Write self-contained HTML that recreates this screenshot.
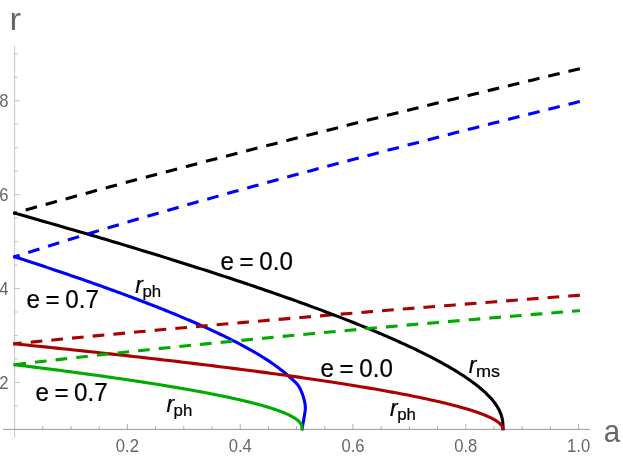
<!DOCTYPE html>
<html><head><meta charset="utf-8"><title>plot</title>
<style>
html,body{margin:0;padding:0;background:#fff;}
body{width:623px;height:459px;overflow:hidden;}
svg{display:block;font-family:"Liberation Sans",sans-serif;will-change:transform;}
</style></head><body>
<svg width="623" height="459" viewBox="0 0 623 459">
<rect width="623" height="459" fill="#ffffff"/>
<g fill="none"><line x1="3.1" y1="429.40" x2="589.9" y2="429.40" stroke="#808080" stroke-width="0.8"/><line x1="14.60" y1="45.9" x2="14.60" y2="437.5" stroke="#9a9a9a" stroke-width="0.6"/><line x1="42.80" y1="429.40" x2="42.80" y2="426.10" stroke="#8a8a8a" stroke-width="0.7"/><line x1="71.00" y1="429.40" x2="71.00" y2="426.10" stroke="#8a8a8a" stroke-width="0.7"/><line x1="99.20" y1="429.40" x2="99.20" y2="426.10" stroke="#8a8a8a" stroke-width="0.7"/><line x1="127.40" y1="429.40" x2="127.40" y2="424.10" stroke="#8a8a8a" stroke-width="0.7"/><line x1="155.60" y1="429.40" x2="155.60" y2="426.10" stroke="#8a8a8a" stroke-width="0.7"/><line x1="183.80" y1="429.40" x2="183.80" y2="426.10" stroke="#8a8a8a" stroke-width="0.7"/><line x1="212.00" y1="429.40" x2="212.00" y2="426.10" stroke="#8a8a8a" stroke-width="0.7"/><line x1="240.20" y1="429.40" x2="240.20" y2="424.10" stroke="#8a8a8a" stroke-width="0.7"/><line x1="268.40" y1="429.40" x2="268.40" y2="426.10" stroke="#8a8a8a" stroke-width="0.7"/><line x1="296.60" y1="429.40" x2="296.60" y2="426.10" stroke="#8a8a8a" stroke-width="0.7"/><line x1="324.80" y1="429.40" x2="324.80" y2="426.10" stroke="#8a8a8a" stroke-width="0.7"/><line x1="353.00" y1="429.40" x2="353.00" y2="424.10" stroke="#8a8a8a" stroke-width="0.7"/><line x1="381.20" y1="429.40" x2="381.20" y2="426.10" stroke="#8a8a8a" stroke-width="0.7"/><line x1="409.40" y1="429.40" x2="409.40" y2="426.10" stroke="#8a8a8a" stroke-width="0.7"/><line x1="437.60" y1="429.40" x2="437.60" y2="426.10" stroke="#8a8a8a" stroke-width="0.7"/><line x1="465.80" y1="429.40" x2="465.80" y2="424.10" stroke="#8a8a8a" stroke-width="0.7"/><line x1="494.00" y1="429.40" x2="494.00" y2="426.10" stroke="#8a8a8a" stroke-width="0.7"/><line x1="522.20" y1="429.40" x2="522.20" y2="426.10" stroke="#8a8a8a" stroke-width="0.7"/><line x1="550.40" y1="429.40" x2="550.40" y2="426.10" stroke="#8a8a8a" stroke-width="0.7"/><line x1="578.60" y1="429.40" x2="578.60" y2="424.10" stroke="#8a8a8a" stroke-width="0.7"/><line x1="14.60" y1="405.92" x2="17.90" y2="405.92" stroke="#9a9a9a" stroke-width="0.6"/><line x1="14.60" y1="382.45" x2="19.90" y2="382.45" stroke="#9a9a9a" stroke-width="0.6"/><line x1="14.60" y1="358.97" x2="17.90" y2="358.97" stroke="#9a9a9a" stroke-width="0.6"/><line x1="14.60" y1="335.50" x2="17.90" y2="335.50" stroke="#9a9a9a" stroke-width="0.6"/><line x1="14.60" y1="312.02" x2="17.90" y2="312.02" stroke="#9a9a9a" stroke-width="0.6"/><line x1="14.60" y1="288.55" x2="19.90" y2="288.55" stroke="#9a9a9a" stroke-width="0.6"/><line x1="14.60" y1="265.07" x2="17.90" y2="265.07" stroke="#9a9a9a" stroke-width="0.6"/><line x1="14.60" y1="241.60" x2="17.90" y2="241.60" stroke="#9a9a9a" stroke-width="0.6"/><line x1="14.60" y1="218.12" x2="17.90" y2="218.12" stroke="#9a9a9a" stroke-width="0.6"/><line x1="14.60" y1="194.65" x2="19.90" y2="194.65" stroke="#9a9a9a" stroke-width="0.6"/><line x1="14.60" y1="171.17" x2="17.90" y2="171.17" stroke="#9a9a9a" stroke-width="0.6"/><line x1="14.60" y1="147.70" x2="17.90" y2="147.70" stroke="#9a9a9a" stroke-width="0.6"/><line x1="14.60" y1="124.22" x2="17.90" y2="124.22" stroke="#9a9a9a" stroke-width="0.6"/><line x1="14.60" y1="100.75" x2="19.90" y2="100.75" stroke="#9a9a9a" stroke-width="0.6"/><line x1="14.60" y1="77.27" x2="17.90" y2="77.27" stroke="#9a9a9a" stroke-width="0.6"/><line x1="14.60" y1="53.80" x2="17.90" y2="53.80" stroke="#9a9a9a" stroke-width="0.6"/></g>
<path d="M13.36,256.42 L14.60,256.82 L16.90,257.56 L19.20,258.30 L21.50,259.05 L23.79,259.79 L26.09,260.54 L28.39,261.29 L30.69,262.04 L32.99,262.80 L35.29,263.55 L37.59,264.31 L39.89,265.07 L42.18,265.83 L44.48,266.59 L46.78,267.36 L49.08,268.12 L51.38,268.89 L53.68,269.66 L55.98,270.44 L58.27,271.21 L60.57,271.99 L62.87,272.77 L65.17,273.55 L67.47,274.33 L69.77,275.12 L72.07,275.91 L74.37,276.70 L76.66,277.49 L78.96,278.28 L81.26,279.08 L83.56,279.88 L85.86,280.68 L88.16,281.49 L90.46,282.30 L92.75,283.11 L95.05,283.92 L97.35,284.73 L99.65,285.55 L101.95,286.37 L104.25,287.20 L106.55,288.02 L108.84,288.85 L111.14,289.69 L113.44,290.52 L115.74,291.36 L118.04,292.20 L120.34,293.05 L122.64,293.90 L124.94,294.75 L127.23,295.60 L129.53,296.46 L131.83,297.32 L134.13,298.19 L136.43,299.06 L138.73,299.93 L141.03,300.81 L143.32,301.69 L145.62,302.57 L147.92,303.46 L150.22,304.36 L152.52,305.25 L154.82,306.16 L157.12,307.06 L159.42,307.97 L161.71,308.89 L164.01,309.81 L166.31,310.74 L168.61,311.67 L170.91,312.60 L173.21,313.54 L175.51,314.49 L177.80,315.44 L180.10,316.40 L182.40,317.36 L184.70,318.33 L187.00,319.31 L189.30,320.29 L191.60,321.28 L193.90,322.28 L196.19,323.28 L198.49,324.29 L200.79,325.31 L203.09,326.34 L205.39,327.37 L207.69,328.41 L209.99,329.46 L212.28,330.53 L214.58,331.59 L216.88,332.67 L219.18,333.76 L221.48,334.86 L223.78,335.97 L226.08,337.10 L228.37,338.23 L230.67,339.38 L232.97,340.54 L235.27,341.71 L237.57,342.90 L239.87,344.10 L242.17,345.32 L244.47,346.56 L246.76,347.81 L249.06,349.09 L251.36,350.38 L253.66,351.69 L255.96,353.03 L258.26,354.39 L260.56,355.78 L262.85,357.20 L265.15,358.65 L267.45,360.13 L269.75,361.65 L272.05,363.21 L274.35,364.81 L276.65,366.47 L278.95,368.18 L281.24,369.96 L283.54,371.81 L285.84,373.74 L288.14,375.78 L288.63,376.22 L289.26,376.78 L290.00,377.42 L290.84,378.14 L291.75,378.93 L292.70,379.76 L293.67,380.64 L294.63,381.54 L295.56,382.45 L296.43,383.35 L297.22,384.24 L297.90,385.10 L298.50,385.95 L299.05,386.82 L299.57,387.70 L300.05,388.59 L300.50,389.50 L300.92,390.41 L301.31,391.33 L301.68,392.25 L302.03,393.17 L302.37,394.09 L302.69,395.00 L303.00,395.90 L303.30,396.80 L303.58,397.70 L303.85,398.61 L304.10,399.51 L304.32,400.42 L304.53,401.32 L304.72,402.22 L304.88,403.12 L305.02,404.00 L305.14,404.88 L305.23,405.75 L305.30,406.60 L305.33,407.44 L305.33,408.26 L305.30,409.08 L305.24,409.88 L305.15,410.68 L305.05,411.47 L304.93,412.26 L304.81,413.04 L304.68,413.83 L304.55,414.61 L304.42,415.40 L304.30,416.20 L304.18,417.02 L304.04,417.87 L303.89,418.74 L303.74,419.63 L303.58,420.51 L303.41,421.38 L303.25,422.23 L303.10,423.05 L302.95,423.83 L302.82,424.55 L302.70,425.21 L302.60,425.80 L302.52,426.32 L302.45,426.78 L302.40,427.19 L302.36,427.55 L302.32,427.87 L302.29,428.15 L302.27,428.40 L302.26,428.62 L302.24,428.81 L302.23,428.99 L302.22,429.15 L302.20,429.30" fill="none" stroke="#0000ff" stroke-width="3.10" stroke-linejoin="round" stroke-linecap="butt"/>
<path d="M579.90,295.24 L578.60,295.34 L569.04,296.07 L559.48,296.79 L549.92,297.52 L540.36,298.25 L530.80,298.98 L521.24,299.72 L511.68,300.46 L502.13,301.20 L492.57,301.95 L483.01,302.69 L473.45,303.44 L463.89,304.19 L454.33,304.95 L444.77,305.71 L435.21,306.47 L425.65,307.23 L416.09,308.00 L406.53,308.77 L396.97,309.54 L387.41,310.32 L377.85,311.10 L368.29,311.88 L358.74,312.67 L349.18,313.46 L339.62,314.25 L330.06,315.05 L320.50,315.85 L310.94,316.65 L301.38,317.46 L291.82,318.27 L282.26,319.09 L272.70,319.90 L263.14,320.73 L253.58,321.55 L244.02,322.39 L234.46,323.22 L224.91,324.06 L215.35,324.90 L205.79,325.75 L196.23,326.61 L186.67,327.46 L177.11,328.32 L167.55,329.19 L157.99,330.06 L148.43,330.94 L138.87,331.82 L129.31,332.71 L119.75,333.60 L110.19,334.50 L100.63,335.40 L91.07,336.31 L81.52,337.23 L71.96,338.15 L62.40,339.08 L52.84,340.01 L43.28,340.95 L33.72,341.90 L24.16,342.85 L14.60,343.82 L13.31,343.95" fill="none" stroke="#aa0000" stroke-width="3.10" stroke-dasharray="11.7 9.05" stroke-dashoffset="0.00"/>
<path d="M13.35,212.76 L14.60,213.12 L20.71,214.84 L26.78,216.56 L32.80,218.28 L38.78,219.98 L44.71,221.68 L50.59,223.37 L56.43,225.05 L62.22,226.72 L67.97,228.39 L73.67,230.05 L79.33,231.70 L84.94,233.34 L90.50,234.98 L96.03,236.61 L101.50,238.23 L106.94,239.84 L112.33,241.45 L117.67,243.05 L122.97,244.64 L128.23,246.23 L133.44,247.80 L138.61,249.37 L143.74,250.94 L148.82,252.49 L153.86,254.04 L158.85,255.58 L163.81,257.11 L168.71,258.64 L173.58,260.16 L178.40,261.67 L183.19,263.18 L187.92,264.67 L192.62,266.16 L197.27,267.65 L201.89,269.12 L206.46,270.59 L210.98,272.05 L215.47,273.51 L219.91,274.96 L224.32,276.40 L228.68,277.83 L233.00,279.26 L237.28,280.68 L241.52,282.09 L245.72,283.50 L249.87,284.89 L253.99,286.29 L258.06,287.67 L262.10,289.05 L266.10,290.42 L270.05,291.78 L273.97,293.14 L277.84,294.49 L281.68,295.84 L285.48,297.17 L289.23,298.50 L292.95,299.83 L296.63,301.14 L300.27,302.45 L303.87,303.75 L307.44,305.05 L310.96,306.34 L314.45,307.62 L317.89,308.90 L321.30,310.17 L324.67,311.43 L328.01,312.69 L331.30,313.94 L334.56,315.18 L337.78,316.41 L340.97,317.64 L344.12,318.87 L347.23,320.08 L350.30,321.29 L353.34,322.50 L356.34,323.69 L359.30,324.88 L362.23,326.07 L365.12,327.25 L367.97,328.42 L370.79,329.58 L373.58,330.74 L376.33,331.89 L379.04,333.04 L381.72,334.18 L384.36,335.31 L386.97,336.44 L389.54,337.56 L392.08,338.67 L394.58,339.78 L397.06,340.88 L399.49,341.98 L401.89,343.07 L404.26,344.15 L406.60,345.23 L408.90,346.30 L411.17,347.36 L413.40,348.42 L415.60,349.47 L417.77,350.52 L419.91,351.56 L422.02,352.59 L424.09,353.62 L426.13,354.64 L428.14,355.66 L430.11,356.67 L432.06,357.68 L433.97,358.67 L435.85,359.67 L437.70,360.65 L439.52,361.64 L441.31,362.61 L443.07,363.58 L444.80,364.54 L446.50,365.50 L448.16,366.45 L449.80,367.40 L451.41,368.34 L452.99,369.27 L454.54,370.20 L456.06,371.13 L457.55,372.04 L459.01,372.96 L460.45,373.86 L461.85,374.76 L463.23,375.66 L464.58,376.55 L465.90,377.43 L467.19,378.31 L468.46,379.19 L469.70,380.05 L470.91,380.92 L472.10,381.78 L473.26,382.63 L474.39,383.47 L475.49,384.32 L476.57,385.15 L477.63,385.98 L478.66,386.81 L479.66,387.63 L480.64,388.44 L481.59,389.25 L482.52,390.06 L483.42,390.86 L484.30,391.65 L485.16,392.44 L485.99,393.23 L486.80,394.01 L487.58,394.78 L488.34,395.55 L489.08,396.32 L489.80,397.08 L490.49,397.83 L491.16,398.59 L491.81,399.33 L492.44,400.07 L493.04,400.81 L493.63,401.54 L494.19,402.27 L494.73,402.99 L495.26,403.71 L495.76,404.43 L496.24,405.14 L496.70,405.84 L497.14,406.54 L497.57,407.24 L497.97,407.94 L498.36,408.62 L498.73,409.31 L499.08,409.99 L499.41,410.67 L499.73,411.34 L500.02,412.01 L500.31,412.68 L500.57,413.34 L500.82,414.00 L501.05,414.66 L501.27,415.32 L501.47,415.97 L501.66,416.62 L501.84,417.26 L502.00,417.91 L502.14,418.55 L502.28,419.19 L502.40,419.83 L502.51,420.46 L502.60,421.10 L502.69,421.74 L502.76,422.38 L502.83,423.02 L502.88,423.66 L502.92,424.30 L502.96,424.95 L502.99,425.61 L503.01,426.28 L503.02,426.97 L503.03,427.68 L503.04,428.45 L503.04,430.00" fill="none" stroke="#000000" stroke-width="3.10" stroke-linejoin="round" stroke-linecap="butt"/>
<path d="M13.31,343.69 L14.60,343.82 L20.71,344.43 L26.78,345.05 L32.80,345.67 L38.78,346.28 L44.71,346.89 L50.59,347.50 L56.43,348.11 L62.22,348.72 L67.97,349.32 L73.67,349.93 L79.33,350.53 L84.94,351.13 L90.50,351.73 L96.03,352.32 L101.50,352.92 L106.94,353.51 L112.33,354.10 L117.67,354.69 L122.97,355.28 L128.23,355.87 L133.44,356.45 L138.61,357.04 L143.74,357.62 L148.82,358.20 L153.86,358.77 L158.85,359.35 L163.81,359.93 L168.71,360.50 L173.58,361.07 L178.40,361.64 L183.19,362.21 L187.92,362.77 L192.62,363.34 L197.27,363.90 L201.89,364.46 L206.46,365.02 L210.98,365.58 L215.47,366.13 L219.91,366.69 L224.32,367.24 L228.68,367.79 L233.00,368.34 L237.28,368.88 L241.52,369.43 L245.72,369.97 L249.87,370.51 L253.99,371.05 L258.06,371.59 L262.10,372.13 L266.10,372.66 L270.05,373.20 L273.97,373.73 L277.84,374.26 L281.68,374.78 L285.48,375.31 L289.23,375.83 L292.95,376.36 L296.63,376.88 L300.27,377.39 L303.87,377.91 L307.44,378.43 L310.96,378.94 L314.45,379.45 L317.89,379.96 L321.30,380.47 L324.67,380.97 L328.01,381.48 L331.30,381.98 L334.56,382.48 L337.78,382.98 L340.97,383.48 L344.12,383.97 L347.23,384.47 L350.30,384.96 L353.34,385.45 L356.34,385.94 L359.30,386.42 L362.23,386.91 L365.12,387.39 L367.97,387.87 L370.79,388.35 L373.58,388.82 L376.33,389.30 L379.04,389.77 L381.72,390.24 L384.36,390.71 L386.97,391.18 L389.54,391.65 L392.08,392.11 L394.58,392.57 L397.06,393.03 L399.49,393.49 L401.89,393.95 L404.26,394.40 L406.60,394.85 L408.90,395.30 L411.17,395.75 L413.40,396.20 L415.60,396.65 L417.77,397.09 L419.91,397.53 L422.02,397.97 L424.09,398.41 L426.13,398.84 L428.14,399.27 L430.11,399.71 L432.06,400.14 L433.97,400.56 L435.85,400.99 L437.70,401.41 L439.52,401.83 L441.31,402.25 L443.07,402.67 L444.80,403.09 L446.50,403.50 L448.16,403.91 L449.80,404.32 L451.41,404.73 L452.99,405.14 L454.54,405.54 L456.06,405.94 L457.55,406.34 L459.01,406.74 L460.45,407.13 L461.85,407.53 L463.23,407.92 L464.58,408.31 L465.90,408.69 L467.19,409.08 L468.46,409.46 L469.70,409.84 L470.91,410.22 L472.10,410.60 L473.26,410.97 L474.39,411.35 L475.49,411.72 L476.57,412.08 L477.63,412.45 L478.66,412.81 L479.66,413.18 L480.64,413.54 L481.59,413.89 L482.52,414.25 L483.42,414.60 L484.30,414.95 L485.16,415.30 L485.99,415.64 L486.80,415.99 L487.58,416.33 L488.34,416.67 L489.08,417.00 L489.80,417.34 L490.49,417.67 L491.16,418.00 L491.81,418.33 L492.44,418.65 L493.04,418.97 L493.63,419.29 L494.19,419.61 L494.73,419.92 L495.26,420.23 L495.76,420.54 L496.24,420.85 L496.70,421.15 L497.14,421.45 L497.57,421.75 L497.97,422.05 L498.36,422.34 L498.73,422.63 L499.08,422.92 L499.41,423.20 L499.73,423.48 L500.02,423.76 L500.31,424.04 L500.57,424.31 L500.82,424.57 L501.05,424.84 L501.27,425.10 L501.47,425.36 L501.66,425.61 L501.84,425.86 L502.00,426.11 L502.14,426.35 L502.28,426.59 L502.40,426.83 L502.51,427.05 L502.60,427.28 L502.69,427.50 L502.76,427.71 L502.83,427.92 L502.88,428.13 L502.92,428.32 L502.96,428.51 L502.99,428.69 L503.01,428.87 L503.02,429.03 L503.03,429.18 L503.04,429.31 L503.04,429.40 L503.04,430.60" fill="none" stroke="#aa0000" stroke-width="3.10" stroke-linejoin="round" stroke-linecap="butt"/>
<path d="M13.31,364.57 L14.60,364.73 L18.20,365.16 L21.77,365.60 L25.32,366.04 L28.83,366.47 L32.33,366.91 L35.79,367.34 L39.23,367.77 L42.64,368.20 L46.02,368.63 L49.38,369.06 L52.71,369.48 L56.01,369.91 L59.29,370.33 L62.54,370.75 L65.77,371.18 L68.97,371.60 L72.14,372.02 L75.29,372.44 L78.41,372.85 L81.50,373.27 L84.57,373.68 L87.62,374.10 L90.63,374.51 L93.63,374.92 L96.59,375.33 L99.53,375.74 L102.45,376.15 L105.34,376.56 L108.21,376.96 L111.05,377.37 L113.86,377.77 L116.65,378.17 L119.42,378.58 L122.16,378.98 L124.87,379.37 L127.56,379.77 L130.23,380.17 L132.87,380.56 L135.49,380.96 L138.08,381.35 L140.65,381.74 L143.19,382.13 L145.71,382.52 L148.21,382.91 L150.68,383.30 L153.12,383.68 L155.55,384.07 L157.95,384.45 L160.32,384.84 L162.68,385.22 L165.01,385.60 L167.31,385.98 L169.59,386.35 L171.85,386.73 L174.09,387.11 L176.30,387.48 L178.49,387.85 L180.66,388.23 L182.80,388.60 L184.92,388.97 L187.02,389.33 L189.09,389.70 L191.14,390.07 L193.17,390.43 L195.18,390.80 L197.17,391.16 L199.13,391.52 L201.07,391.88 L202.99,392.24 L204.89,392.60 L206.76,392.95 L208.61,393.31 L210.44,393.66 L212.25,394.02 L214.04,394.37 L215.81,394.72 L217.55,395.07 L219.28,395.42 L220.98,395.76 L222.66,396.11 L224.32,396.45 L225.96,396.80 L227.58,397.14 L229.18,397.48 L230.75,397.82 L232.31,398.16 L233.84,398.50 L235.36,398.83 L236.85,399.17 L238.33,399.50 L239.78,399.84 L241.22,400.17 L242.63,400.50 L244.03,400.83 L245.40,401.16 L246.76,401.48 L248.09,401.81 L249.41,402.13 L250.71,402.46 L251.98,402.78 L253.24,403.10 L254.48,403.42 L255.70,403.74 L256.90,404.06 L258.08,404.37 L259.25,404.69 L260.39,405.00 L261.52,405.31 L262.63,405.63 L263.72,405.94 L264.79,406.25 L265.84,406.55 L266.88,406.86 L267.89,407.17 L268.89,407.47 L269.88,407.77 L270.84,408.08 L271.79,408.38 L272.72,408.68 L273.63,408.97 L274.52,409.27 L275.40,409.57 L276.26,409.86 L277.11,410.16 L277.93,410.45 L278.75,410.74 L279.54,411.03 L280.32,411.32 L281.08,411.61 L281.83,411.90 L282.56,412.18 L283.27,412.47 L283.97,412.75 L284.65,413.03 L285.32,413.31 L285.97,413.59 L286.60,413.87 L287.22,414.15 L287.83,414.43 L288.42,414.70 L289.00,414.98 L289.56,415.25 L290.10,415.52 L290.64,415.79 L291.15,416.06 L291.66,416.33 L292.15,416.60 L292.62,416.86 L293.08,417.13 L293.53,417.39 L293.97,417.66 L294.39,417.92 L294.80,418.18 L295.19,418.44 L295.57,418.70 L295.94,418.96 L296.30,419.21 L296.64,419.47 L296.98,419.72 L297.29,419.98 L297.60,420.23 L297.90,420.48 L298.18,420.73 L298.45,420.98 L298.71,421.23 L298.96,421.48 L299.20,421.73 L299.43,421.97 L299.65,422.22 L299.85,422.46 L300.05,422.71 L300.23,422.95 L300.41,423.19 L300.58,423.43 L300.73,423.67 L300.88,423.91 L301.02,424.15 L301.14,424.39 L301.26,424.63 L301.37,424.87 L301.48,425.10 L301.57,425.34 L301.66,425.58 L301.74,425.81 L301.81,426.05 L301.87,426.29 L301.93,426.52 L301.98,426.76 L302.02,427.00 L302.06,427.23 L302.09,427.47 L302.12,427.71 L302.14,427.95 L302.16,428.20 L302.17,428.44 L302.18,428.69 L302.18,428.94 L302.18,429.19 L301.58,430.60" fill="none" stroke="#00aa00" stroke-width="3.10" stroke-linejoin="round" stroke-linecap="butt"/>
<path d="M579.86,101.53 L578.60,101.84 L569.04,104.21 L559.48,106.58 L549.92,108.96 L540.36,111.34 L530.80,113.73 L521.24,116.13 L511.68,118.53 L502.13,120.94 L492.57,123.36 L483.01,125.78 L473.45,128.20 L463.89,130.64 L454.33,133.08 L444.77,135.53 L435.21,137.99 L425.65,140.45 L416.09,142.92 L406.53,145.40 L396.97,147.88 L387.41,150.38 L377.85,152.88 L368.29,155.39 L358.74,157.91 L349.18,160.44 L339.62,162.98 L330.06,165.52 L320.50,168.08 L310.94,170.64 L301.38,173.22 L291.82,175.80 L282.26,178.40 L272.70,181.00 L263.14,183.62 L253.58,186.25 L244.02,188.89 L234.46,191.54 L224.91,194.20 L215.35,196.87 L205.79,199.56 L196.23,202.26 L186.67,204.98 L177.11,207.71 L167.55,210.45 L157.99,213.21 L148.43,215.99 L138.87,218.78 L129.31,221.58 L119.75,224.41 L110.19,227.25 L100.63,230.11 L91.07,232.99 L81.52,235.89 L71.96,238.81 L62.40,241.75 L52.84,244.71 L43.28,247.70 L33.72,250.71 L24.16,253.75 L14.60,256.82 L13.36,257.22" fill="none" stroke="#0000ff" stroke-width="3.10" stroke-dasharray="11.7 9.05" stroke-dashoffset="0.00"/>
<path d="M579.86,68.71 L578.60,69.01 L569.04,71.29 L559.48,73.56 L549.92,75.84 L540.36,78.13 L530.80,80.42 L521.24,82.71 L511.68,85.01 L502.13,87.31 L492.57,89.62 L483.01,91.93 L473.45,94.25 L463.89,96.57 L454.33,98.90 L444.77,101.23 L435.21,103.57 L425.65,105.91 L416.09,108.26 L406.53,110.61 L396.97,112.97 L387.41,115.33 L377.85,117.70 L368.29,120.07 L358.74,122.45 L349.18,124.84 L339.62,127.23 L330.06,129.63 L320.50,132.03 L310.94,134.44 L301.38,136.86 L291.82,139.28 L282.26,141.71 L272.70,144.15 L263.14,146.59 L253.58,149.04 L244.02,151.50 L234.46,153.97 L224.91,156.44 L215.35,158.92 L205.79,161.41 L196.23,163.90 L186.67,166.41 L177.11,168.92 L167.55,171.44 L157.99,173.97 L148.43,176.51 L138.87,179.06 L129.31,181.61 L119.75,184.18 L110.19,186.76 L100.63,189.34 L91.07,191.94 L81.52,194.55 L71.96,197.17 L62.40,199.79 L52.84,202.44 L43.28,205.09 L33.72,207.75 L24.16,210.43 L14.60,213.12 L13.35,213.47" fill="none" stroke="#000000" stroke-width="3.10" stroke-dasharray="11.7 9.05" stroke-dashoffset="0.00"/>
<path d="M579.90,310.65 L578.60,310.76 L569.04,311.53 L559.48,312.30 L549.92,313.08 L540.36,313.86 L530.80,314.64 L521.24,315.43 L511.68,316.22 L502.13,317.01 L492.57,317.81 L483.01,318.61 L473.45,319.42 L463.89,320.23 L454.33,321.04 L444.77,321.86 L435.21,322.68 L425.65,323.50 L416.09,324.33 L406.53,325.17 L396.97,326.00 L387.41,326.85 L377.85,327.69 L368.29,328.55 L358.74,329.40 L349.18,330.26 L339.62,331.13 L330.06,332.00 L320.50,332.88 L310.94,333.76 L301.38,334.65 L291.82,335.54 L282.26,336.44 L272.70,337.34 L263.14,338.25 L253.58,339.17 L244.02,340.09 L234.46,341.02 L224.91,341.95 L215.35,342.90 L205.79,343.85 L196.23,344.80 L186.67,345.77 L177.11,346.74 L167.55,347.72 L157.99,348.71 L148.43,349.70 L138.87,350.71 L129.31,351.72 L119.75,352.75 L110.19,353.78 L100.63,354.82 L91.07,355.87 L81.52,356.94 L71.96,358.01 L62.40,359.10 L52.84,360.20 L43.28,361.31 L33.72,362.44 L24.16,363.57 L14.60,364.73 L13.31,364.88" fill="none" stroke="#00aa00" stroke-width="3.10" stroke-dasharray="11.7 9.05" stroke-dashoffset="3.80"/>
<text transform="translate(127.40,451.90) scale(0.940,1)" text-anchor="middle" font-size="17.7" fill="#666666">0.2</text>
<text transform="translate(240.20,451.90) scale(0.940,1)" text-anchor="middle" font-size="17.7" fill="#666666">0.4</text>
<text transform="translate(353.00,451.90) scale(0.940,1)" text-anchor="middle" font-size="17.7" fill="#666666">0.6</text>
<text transform="translate(465.80,451.90) scale(0.940,1)" text-anchor="middle" font-size="17.7" fill="#666666">0.8</text>
<text transform="translate(578.60,451.90) scale(0.940,1)" text-anchor="middle" font-size="17.7" fill="#666666">1.0</text>
<text transform="translate(8.60,388.85) scale(0.940,1)" text-anchor="end" font-size="17.7" fill="#666666">2</text>
<text transform="translate(8.60,294.95) scale(0.940,1)" text-anchor="end" font-size="17.7" fill="#666666">4</text>
<text transform="translate(8.60,201.05) scale(0.940,1)" text-anchor="end" font-size="17.7" fill="#666666">6</text>
<text transform="translate(8.60,107.15) scale(0.940,1)" text-anchor="end" font-size="17.7" fill="#666666">8</text>
<text transform="translate(9.60,29.60) scale(1.080,1)" text-anchor="start" font-size="32" fill="#666666">r</text>
<text transform="translate(603.85,441.80) scale(0.920,1)" text-anchor="start" font-size="32" fill="#666666">a</text>
<text transform="translate(220.60,270.00) scale(0.947,1)" text-anchor="start" font-size="25.5" fill="#000" word-spacing="-1.2" stroke="#000" stroke-width="0.25">e = 0.0</text>
<text transform="translate(26.60,308.00) scale(0.947,1)" text-anchor="start" font-size="25.5" fill="#000" word-spacing="-1.2" stroke="#000" stroke-width="0.25">e = 0.7</text>
<text transform="translate(320.60,377.00) scale(0.947,1)" text-anchor="start" font-size="25.5" fill="#000" word-spacing="-1.2" stroke="#000" stroke-width="0.25">e = 0.0</text>
<text transform="translate(35.40,400.50) scale(0.947,1)" text-anchor="start" font-size="25.5" fill="#000" word-spacing="-1.2" stroke="#000" stroke-width="0.25">e = 0.7</text>
<text transform="translate(135.20,292.90) scale(0.940,1)" text-anchor="start" font-size="24.3" fill="#000" font-style="italic" stroke="#000" stroke-width="0.2">r</text><text transform="translate(142.40,296.90) scale(0.980,1)" text-anchor="start" font-size="17.2" fill="#000" stroke="#000" stroke-width="0.2">ph</text>
<text transform="translate(166.40,411.90) scale(0.940,1)" text-anchor="start" font-size="24.3" fill="#000" font-style="italic" stroke="#000" stroke-width="0.2">r</text><text transform="translate(173.60,415.90) scale(0.980,1)" text-anchor="start" font-size="17.2" fill="#000" stroke="#000" stroke-width="0.2">ph</text>
<text transform="translate(390.00,416.00) scale(0.940,1)" text-anchor="start" font-size="24.3" fill="#000" font-style="italic" stroke="#000" stroke-width="0.2">r</text><text transform="translate(397.20,420.00) scale(0.980,1)" text-anchor="start" font-size="17.2" fill="#000" stroke="#000" stroke-width="0.2">ph</text>
<text transform="translate(468.70,373.00) scale(0.940,1)" text-anchor="start" font-size="24.3" fill="#000" font-style="italic" stroke="#000" stroke-width="0.2">r</text><text transform="translate(475.90,377.00) scale(1.050,1)" text-anchor="start" font-size="17.2" fill="#000" stroke="#000" stroke-width="0.2">ms</text>
</svg>
</body></html>
